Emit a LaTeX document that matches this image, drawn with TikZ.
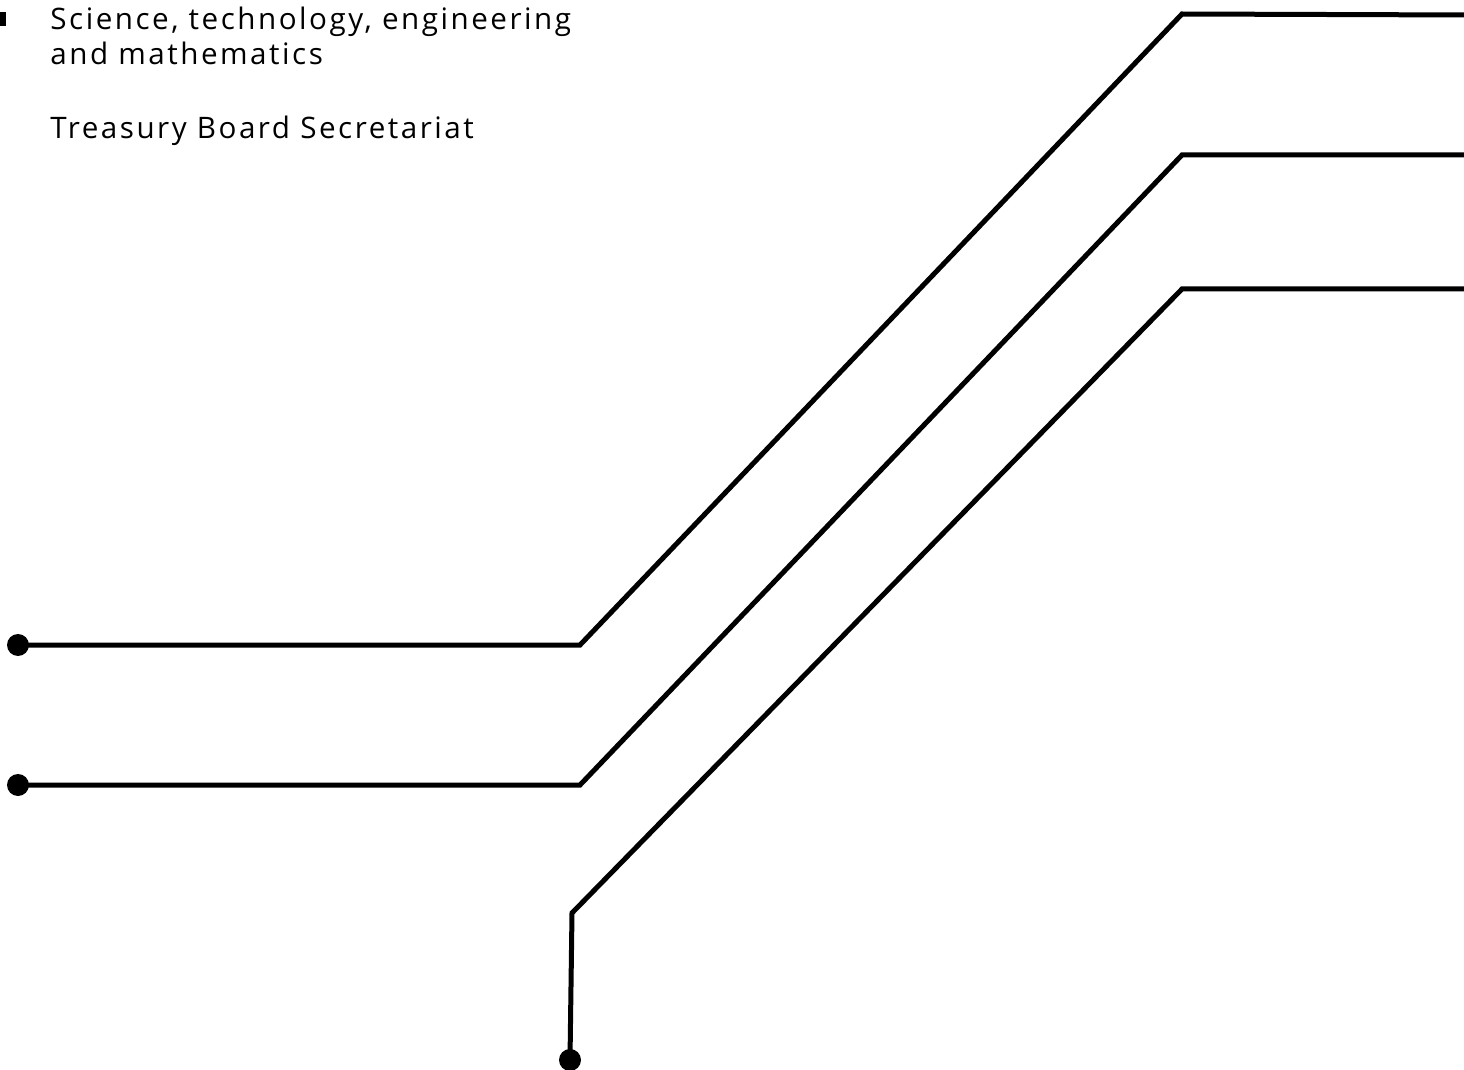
\documentclass[tikz,border=0pt]{standalone}
\usepackage{fontspec}
\setmainfont{Open Sans}[LetterSpace=8.5]
\begin{document}
\begin{tikzpicture}[x=0.5pt,y=-0.5pt,
  wire/.style={line width=2.5pt,black},
  pin/.style={circle,fill=black,inner sep=0pt,minimum size=11pt},
  lbl/.style={anchor=base west,inner sep=0pt,font=\fontsize{14.8}{17.5}\selectfont}]
\useasboundingbox (0,0) rectangle (1464,1070);
\fill[black] (0,12) rectangle (6,26);
\node[lbl] (t1) at (50,30) {Science, technology, engineering};
\node[lbl] (t2) at (50,65) {and mathematics};
\node[lbl] (t3) at (50,139) {Treasury Board Secretariat};
% wire 1
\node[pin] (d1) at (18,645) {};
\coordinate (a1) at (580,645);
\coordinate (b1) at (1182,14);
\coordinate (e1) at (1470,15);
\draw[wire] (d1.center) -- (a1) -- (b1) -- (e1);
% wire 2
\node[pin] (d2) at (18,785) {};
\coordinate (a2) at (580,785);
\coordinate (b2) at (1182,155);
\coordinate (e2) at (1470,155);
\draw[wire] (d2.center) -- (a2) -- (b2) -- (e2);
% wire 3
\node[pin] (d3) at (570,1060) {};
\coordinate (a3) at (572,913);
\coordinate (b3) at (1182,289);
\coordinate (e3) at (1470,289);
\draw[wire] (d3.center) -- (a3) -- (b3) -- (e3);
\end{tikzpicture}
\end{document}
